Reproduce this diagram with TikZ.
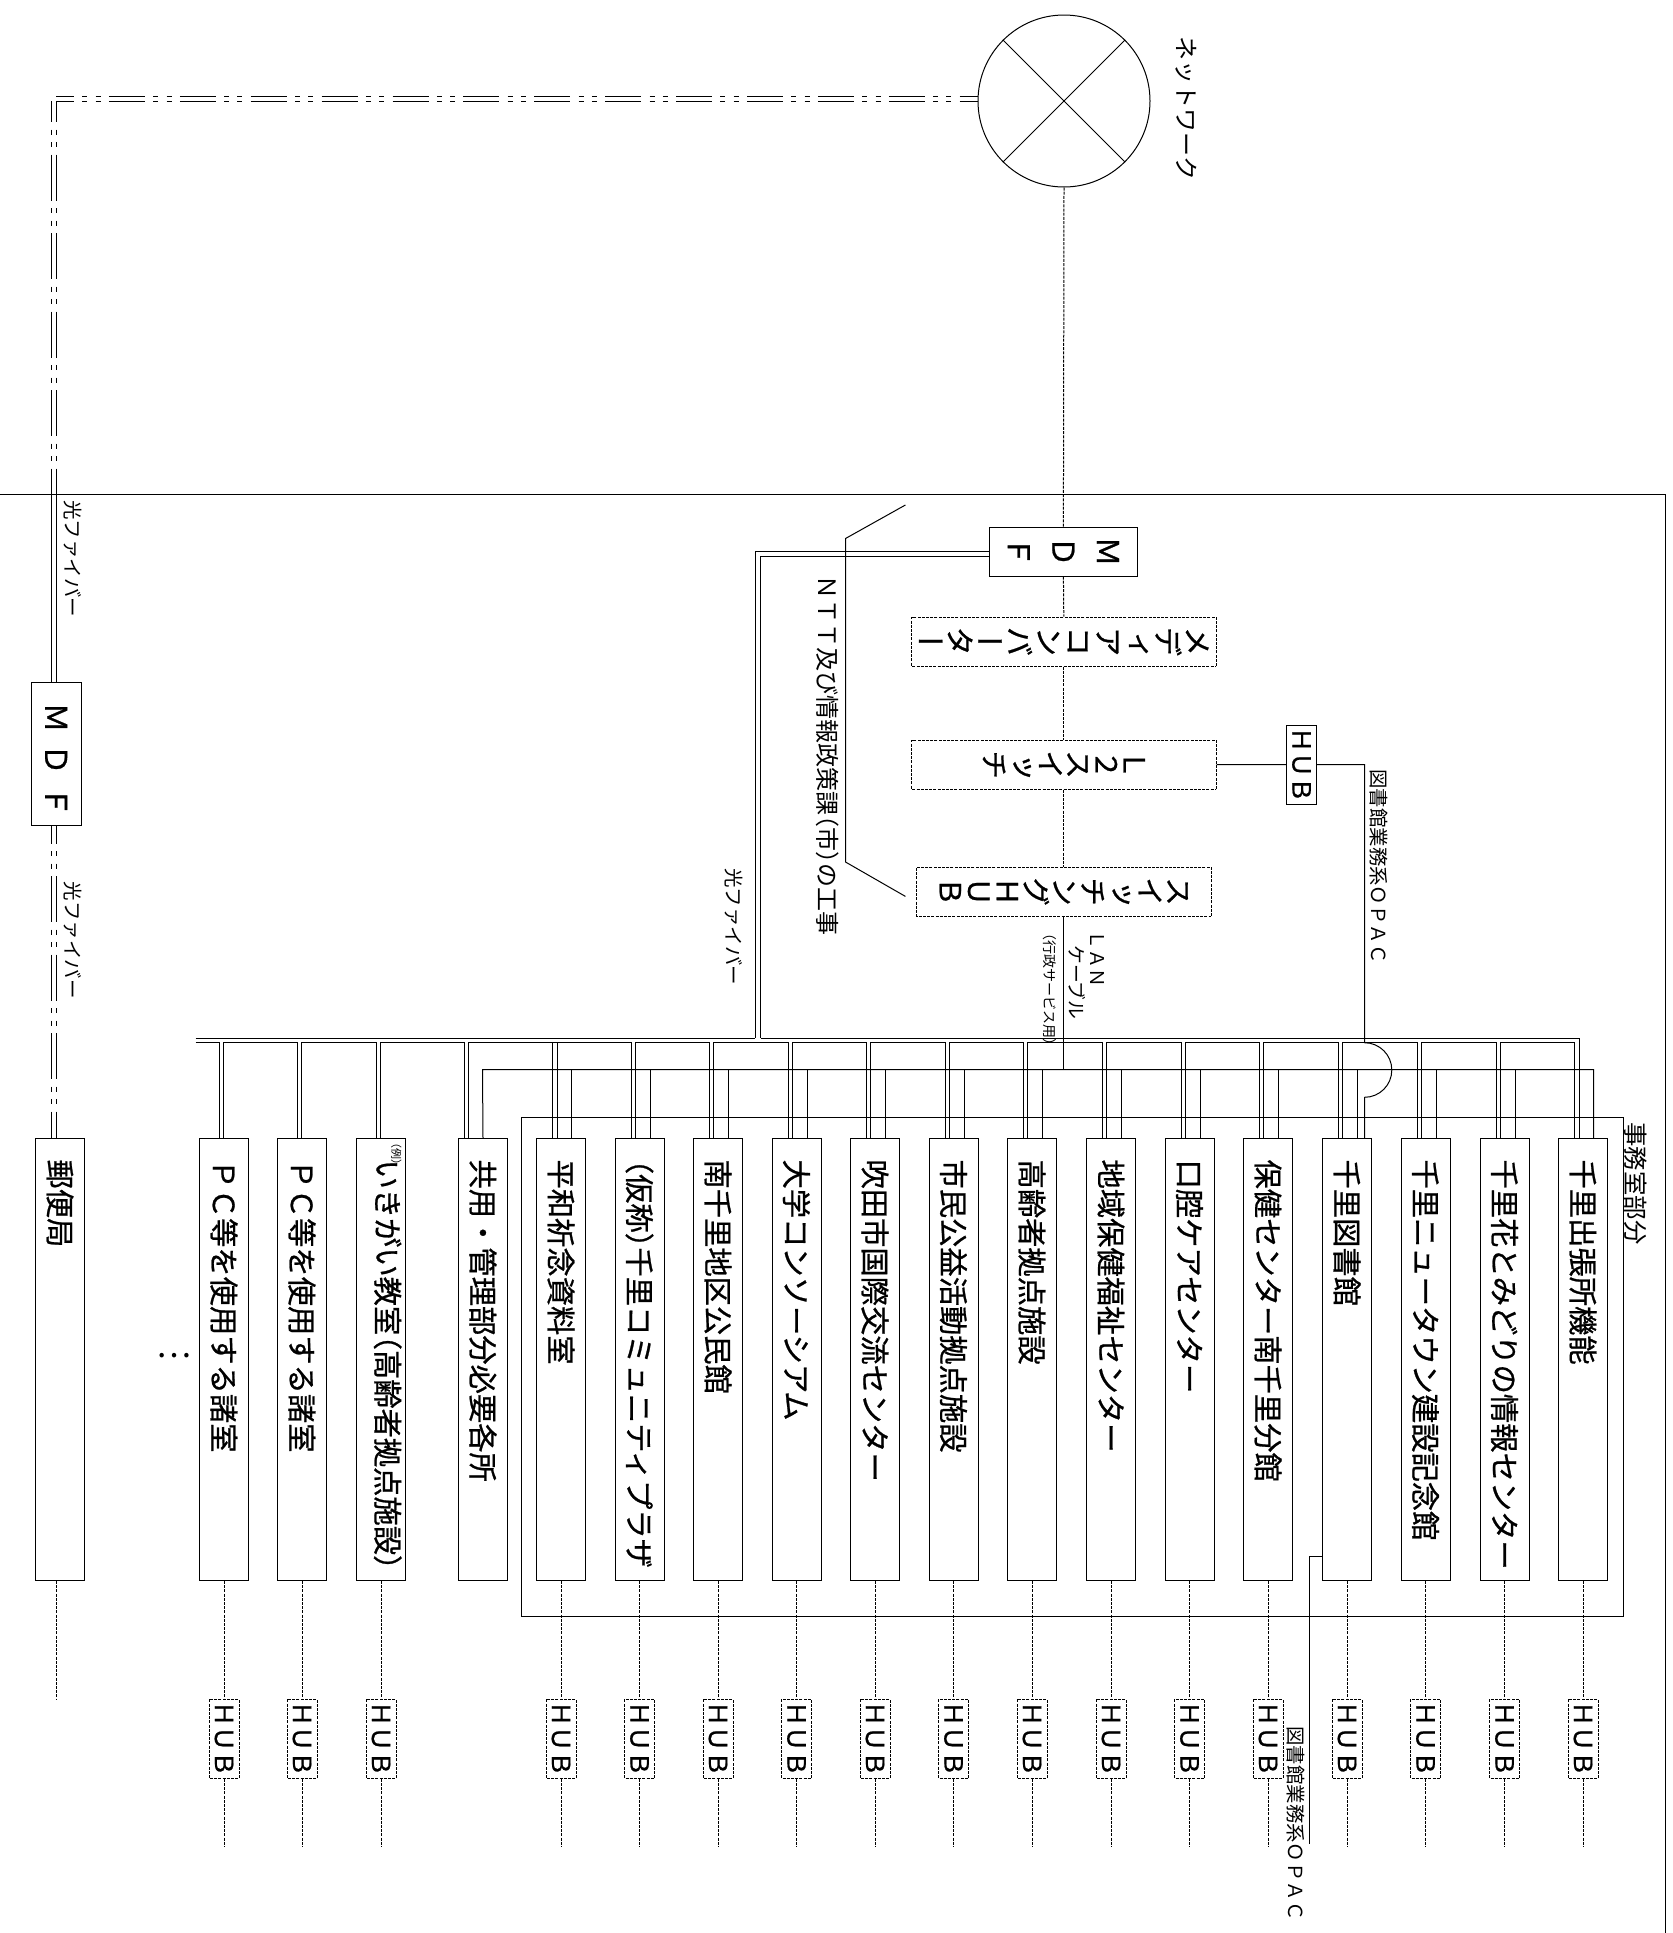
\documentclass[tikz,border=0pt]{standalone}
\usepackage{fontspec}
\setmainfont{Noto Sans CJK JP}
\newfontfamily\tatefont[RawFeature={+vert}, FakeBold=0.8]{Noto Sans CJK JP}
\newfontfamily\roomfont[FakeBold=0.8]{Noto Sans CJK JP}
\newcommand{\fs}[2]{\fontsize{#1}{#2}\selectfont}
\newcommand{\lpar}{\hspace{-.5em}（}
\newcommand{\rpar}{）\hspace{-.5em}}
\tikzset{
  wire/.style={line width=0.5pt},
  dotline/.style={line width=0.5pt, dash pattern=on 1.5pt off 0.6pt},
  fiberh/.style={line width=0.5pt, dash pattern=on 18pt off 4.15pt on 2.5pt off 4.15pt on 2.5pt off 4.15pt, dash phase=9pt},
  fiberv/.style={line width=0.5pt, dash pattern=on 23pt off 3.75pt on 2.5pt off 3.75pt on 2.5pt off 3.75pt},
  roombox/.style={draw, line width=0.5pt, rotate=-90, anchor=south west, minimum width=221pt, minimum height=24.5pt, inner sep=0pt, text width=221pt, align=left, font=\roomfont\fs{14.65}{16}, execute at begin node={\hspace*{10.5pt}}},
  tatebox/.style={draw, rotate=-90, minimum width=24.5pt, inner sep=0pt, align=center},
  hubbox/.style={draw, dotline, rotate=-90, anchor=west, minimum width=39.5pt, minimum height=15pt, inner sep=0pt, font=\roomfont\fs{12.5}{14}},
  sidelabel/.style={rotate=-90, anchor=west, inner sep=0pt},
}
\begin{document}
\begin{tikzpicture}[x=0.5pt, y=-0.5pt]
\useasboundingbox (0,0) rectangle (1673,1933);
% outer frame and office frame
\draw[wire] (0,494) -- (1665,494) -- (1665,1933);
\draw[wire] (521,1117) rectangle (1623,1616);

% network
\node[draw, wire, circle, minimum size=86pt, inner sep=0pt] (cloud) at (1064,101) {};
\draw[wire] (cloud.45) -- (cloud.225);
\draw[wire] (cloud.135) -- (cloud.-45);
\node[sidelabel, font=\fs{12}{13}] (cloudlabel) at (1186,36) {ネットワーク};

% equipment column
\node[tatebox, wire, minimum height=73.65pt, font=\tatefont\fs{15}{22.3}] (mdfmain) at (1063.4,551.5) {Ｍ\\Ｄ\\Ｆ};
\node[tatebox, dotline, minimum height=152.2pt, font=\tatefont\fs{14.85}{14.85}] (mediaconv) at (1063.8,641.5) {メ\\デ\\ィ\\ア\\コ\\ン\\バ\\ー\\タ\\ー};
\node[tatebox, dotline, minimum height=152.2pt, font=\tatefont\fs{14.5}{14}] (l2sw) at (1063.8,764.5) {Ｌ\\２\\ス\\イ\\ッ\\チ};
\node[tatebox, dotline, minimum height=147.25pt, font=\tatefont\fs{14.5}{14.25}] (swhub) at (1063.8,891.5) {ス\\イ\\ッ\\チ\\ン\\グ\\Ｈ\\Ｕ\\Ｂ};
\draw[dotline] (cloud.south) -- (mdfmain.west);
\draw[dotline] (mdfmain.east) -- (mediaconv.west);
\draw[dotline] (mediaconv.east) -- (l2sw.west);
\draw[dotline] (l2sw.east) -- (swhub.west);
\node[draw, wire, rotate=-90, minimum width=39.5pt, minimum height=15pt, inner sep=0pt, font=\roomfont\fs{12.5}{14}] (hubtop) at (1301.5,764.7) {ＨＵＢ};
\draw[wire] (l2sw.north) -- (hubtop.south);

% left MDF and fibre to the post office
\node[draw, wire, rotate=-90, minimum width=71.5pt, minimum height=24.85pt, inner sep=0pt, font=\roomfont\fs{15}{16}] (mdfleft) at (56.15,753.5) {\hspace*{6pt}Ｍ\hspace{.4em}Ｄ\hspace{.4em}Ｆ};
\node[roombox] (post) at (35,1138) {郵便局};

% rooms
\foreach \b/\x/\lbl in {pc1/199/ＰＣ等を使用する諸室, pc2/277/ＰＣ等を使用する諸室, ikigai/356/{\smash{\raisebox{-2.2pt}{いきがい教室\lpar 高齢者拠点施設）}}}, kyoyo/458/共用・管理部分必要各所, heiwa/536/平和祈念資料室, kasho/614.5/{\lpar 仮称\rpar 千里コミュニティプラザ}, minami/693/南千里地区公民館, daigaku/771.5/大学コンソーシアム, kokusai/850/吹田市国際交流センター, shimin/928.5/市民公益活動拠点施設, korei/1007/高齢者拠点施設, chiiki/1086/地域保健福祉センター, koku/1164.5/口腔ケアセンター, hoken/1243/保健センター南千里分館, library/1322/千里図書館, newtown/1400.5/千里ニュータウン建設記念館, hana/1479.5/千里花とみどりの情報センター, debari/1558/千里出張所機能}
  \node[roombox] (\b) at (\x,1138) {\lbl};
\node[inner sep=0pt, rotate=-90, font=\fs{5.5}{6}] (reitag) at (396.4,1154) {（例）};
\node[font=\fs{16.5}{18}, inner sep=0pt] (moredots) at (174,1356) {…};

% fibre from the network, left side
\coordinate (cornerup) at (56,96);
\coordinate (cornerin) at (56,101);
\coordinate (cornerleft) at (51.7,101);
\coordinate (fiberendA) at (51.7,474);
\coordinate (fiberendB) at (56,474);
\draw[fiberh] (cornerup) -- (cornerup -| cloud.west);
\draw[fiberh] (cornerin) -- (cloud.west);
\draw[fiberv, dash phase=12.5pt] (cornerleft) -- (fiberendA);
\draw[fiberv, dash phase=12.5pt] (cornerin) -- (fiberendB);
\draw[wire] (fiberendA) -- (fiberendA |- mdfleft.west);
\draw[wire] (fiberendB) -- (fiberendB |- mdfleft.west);
\draw[fiberv, dash phase=14pt] (fiberendA |- mdfleft.east) -- (fiberendA |- post.south west);
\draw[fiberv, dash phase=14pt] (fiberendB |- mdfleft.east) -- (fiberendB |- post.south west);
\node[sidelabel, font=\fs{9.75}{11}] (fiberlabelA) at (73,500) {光ファイバー};
\node[sidelabel, font=\fs{9.75}{11}] (fiberlabelB) at (73,881.5) {光ファイバー};

% double bus from main MDF
\coordinate (busupL) at (195.5,1038.3);
\coordinate (busupA) at (755.4,1038.3);
\coordinate (busupB) at (760.7,1038.3);
\coordinate (busupR) at (1579,1038.3);
\coordinate (buslowL) at (195.5,1042.7);
\coordinate (buslowR) at (1574.5,1042.7);
\draw[wire] (mdfmain.south) -- (mdfmain.south -| busupA) -- (busupA);
\draw[wire] (mdfmain.south)++(0,5) -- (760.7,556.5) -- (busupB);
\draw[wire] (busupL) -- (busupA);
\draw[wire] (busupB) -- (busupR) -- (debari.south west -| busupR);
\draw[wire] (buslowL) -- (buslowR);
\foreach \b/\off in {pc1/20, pc2/20, ikigai/20, kyoyo/6, kasho/16.5, minami/16.5, daigaku/16.5, kokusai/16.5, shimin/16.5, korei/16.5, chiiki/16.5, koku/16.5, hoken/16.5, library/16.5, newtown/16.5, hana/16.5}{
  \draw[white, line width=1pt] (\b.south west)++(\off+0.8,-95.3) -- ++(2.8,0);
  \draw[wire] (\b.south west)++(\off,0) -- ++(0,-95.3);
  \draw[wire] (\b.south west)++(\off+4.4,0) -- ++(0,-95.3);
}
\draw[wire] (heiwa.south west)++(16.5,0) -- ++(0,-95.3);
\draw[wire] (heiwa.south west)++(21,0) -- ++(0,-95.3);
\draw[wire] (debari.south west)++(16.5,0) -- ++(0,-95.3);

% second bus from switching HUB
\coordinate (bustwoL) at (482.5,1069.6);
\coordinate (bustwoR) at (1593.6,1069.6);
\draw[wire] (kyoyo.west) -- (bustwoL) -- (bustwoR) -- (debari.south west -| bustwoR);
\draw[wire] (swhub.east) -- (swhub.east |- bustwoL);
\foreach \b in {heiwa, kasho, minami, daigaku, kokusai, shimin, korei, chiiki, koku, hoken, library, newtown, hana}
  \draw[wire] (\b.south west)++(35.5,0) -- ++(0,-68.4);

% OPAC line hops over second bus
\coordinate (hoptop) at (1364.5,1042.7);
\draw[wire] (hubtop.north) -| (hoptop) arc (-90:90:27.3) -- ++(0,40.7);
\coordinate (opacjog) at (1309.4,1556);
\coordinate (opacend) at (1309.4,1844);
\draw[wire] (library.south west |- opacjog) -- (opacjog) -- (opacend);
\node[sidelabel, font=\fs{9.7}{11}] (opaclabelA) at (1378.6,769) {図書館業務系ＯＰＡＣ};
\node[sidelabel, font=\fs{9.7}{11}] (opaclabelB) at (1295.5,1726) {図書館業務系ＯＰＡＣ};

% HUBs under the rooms
\foreach \b in {pc1, pc2, ikigai, heiwa, kasho, minami, daigaku, kokusai, shimin, korei, chiiki, koku, hoken, library, newtown, hana, debari}{
  \node[hubbox] (hub\b) at ([yshift=-58.85pt]\b.east) {ＨＵＢ};
  \draw[dotline] (\b.east) -- (hub\b.west);
  \draw[dotline] (hub\b.east) -- ++(0,67.3);
}
\draw[dotline] (post.south east)++(21,0) -- ++(0,118);

% NTT note
\coordinate (nttA) at (905.4,505);
\coordinate (nttB) at (845.5,538.5);
\coordinate (nttC) at (845.5,862);
\coordinate (nttD) at (905.4,896.4);
\draw[wire] (nttA) -- (nttB) -- (nttC) -- (nttD);
\node[sidelabel, font=\fs{12}{13}] (nttlabel) at (828,575) {ＮＴＴ及び情報政策課\lpar 市\rpar の工事};
\node[sidelabel, font=\fs{9.75}{11}] (fiberlabelC) at (733.5,868) {光ファイバー};
\node[sidelabel, font=\fs{9.5}{10}] (lanlabel) at (1097,930) {ＬＡＮ};
\node[sidelabel, font=\fs{9.4}{10}] (cablelabel) at (1077,945) {ケーブル};
\node[sidelabel, font=\fs{7}{8}] (gyoseilabel) at (1050,933) {\lpar 行政サービス用）};
\node[sidelabel, font=\fs{12.2}{14}] (officelabel) at (1636,1122) {事務室部分};
\end{tikzpicture}
\end{document}
